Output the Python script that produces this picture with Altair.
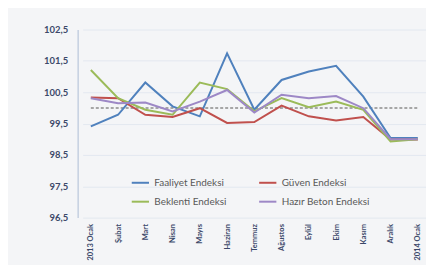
import altair as alt
import pandas as pd

months = ["2013 Ocak", "Şubat", "Mart", "Nisan", "Mayıs", "Haziran", "Temmuz",
          "Ağustos", "Eylül", "Ekim", "Kasım", "Aralık", "2014 Ocak"]
faaliyet = [99.41, 99.78, 100.81, 100.05, 99.73, 101.74, 99.94, 100.89, 101.16, 101.34, 100.36, 99.04, 99.04]
guven = [100.33, 100.31, 99.78, 99.71, 99.99, 99.52, 99.55, 100.07, 99.73, 99.60, 99.71, 98.99, 98.99]
beklenti = [101.21, 100.31, 99.94, 99.78, 100.81, 100.60, 99.89, 100.31, 100.02, 100.20, 99.94, 98.93, 99.00]
hazir = [100.31, 100.15, 100.17, 99.89, 100.20, 100.57, 99.85, 100.42, 100.31, 100.38, 99.99, 99.00, 99.00]
reference = [100.0] * len(months)

series_names = ["Faaliyet Endeksi", "Güven Endeksi", "Beklenti Endeksi", "Hazır Beton Endeksi"]
series_vals = [faaliyet, guven, beklenti, hazir]
# legend fills column by column
legend_order = ["Faaliyet Endeksi", "Beklenti Endeksi", "Güven Endeksi", "Hazır Beton Endeksi"]
color_map = {"Faaliyet Endeksi": "#4f81bd", "Güven Endeksi": "#c0504d",
             "Beklenti Endeksi": "#9bbb59", "Hazır Beton Endeksi": "#9d88c6"}
width_map = {"Faaliyet Endeksi": 2, "Güven Endeksi": 2,
             "Beklenti Endeksi": 2, "Hazır Beton Endeksi": 3.5}

rows = []
for name, vals in zip(series_names, series_vals):
    for m, v in zip(months, vals):
        rows.append({"Ay": m, "Seri": name, "Deger": v})
df = pd.DataFrame(rows)
ref_df = pd.DataFrame({"Ay": months, "Deger": reference})

FONT = "Lato"
xscale = alt.Scale(type="point", domain=months, padding=0.3)
yscale = alt.Scale(domain=[96.5, 102.5], nice=False, zero=False)

x = alt.X("Ay:N", scale=xscale, sort=months, axis=alt.Axis(
    title=None, labelAngle=270, labelFontSize=7.5, labelColor="#3b4869",
    labelFont=FONT, labelFontWeight="bold", ticks=False, domain=False,
    labelPadding=6, grid=False))
y = alt.Y("Deger:Q", scale=yscale, axis=alt.Axis(
    title=None, values=[96.5, 97.5, 98.5, 99.5, 100.5, 101.5, 102.5],
    labelExpr="replace(format(datum.value, '.1f'), '.', ',')",
    labelFontSize=9.5, labelColor="#3b4869", labelFont=FONT, labelFontWeight="bold",
    ticks=False, domainColor="#c5d0e0", domainWidth=1.5, offset=5,
    gridColor="#e3e8f0", gridWidth=1, labelPadding=10))

ref_line = alt.Chart(ref_df).mark_line(
    color="#a6a6a6", strokeDash=[3, 2], strokeWidth=2
).encode(x=x, y=y)

lines = alt.Chart(df).mark_line().encode(
    x=x,
    y=y,
    color=alt.Color("Seri:N",
                    scale=alt.Scale(domain=legend_order,
                                    range=[color_map[s] for s in legend_order]),
                    legend=alt.Legend(title=None, orient="none", legendX=48, legendY=144,
                                      columns=2, symbolType="stroke", symbolSize=300,
                                      columnPadding=28, rowPadding=4,
                                      labelFontSize=10, labelColor="#595959",
                                      labelFont=FONT, symbolStrokeWidth=2.5)),
    strokeWidth=alt.StrokeWidth("Seri:N",
                                scale=alt.Scale(domain=legend_order,
                                                range=[width_map[s] for s in legend_order]),
                                legend=None),
)

chart = alt.layer(ref_line, lines).properties(
    width=345, height=189,
    padding={"left": 75, "top": 21, "right": 0, "bottom": 47},
    autosize=alt.AutoSizeParams(type="none"),
    background="#f4f5f7",
).configure_view(stroke=None)

chart.save("out.html", embed_options={"renderer": "svg", "actions": False})
